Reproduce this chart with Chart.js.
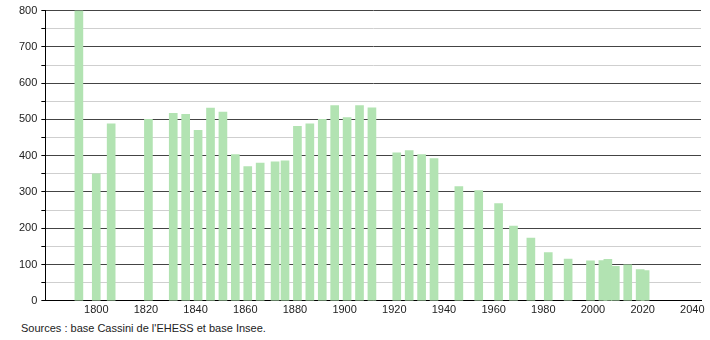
<!DOCTYPE html>
<html lang="fr">
<head>
    <meta charset="UTF-8">
    <title>Évolution démographique</title>
    <script src="https://cdn.jsdelivr.net/npm/chart.js"></script>
    <style>
        body {
            margin: 0;
            padding: 0;
            background: #fff;
            font-family: 'Liberation Sans', Arial, sans-serif;
        }
        .wrap {
            position: relative;
            width: 710px;
            height: 320px;
        }
        .source {
            position: absolute;
            left: 21px;
            top: 322px;
            font-size: 11px;
            color: #222;
        }
    </style>
</head>
<body>
    <div class="wrap">
        <canvas id="popChart"></canvas>
    </div>
    <div class="source">Sources : base Cassini de l'EHESS et base Insee.</div>

    <script>
        // années de recensement et population
        const years = [1793, 1800, 1806, 1821, 1831, 1836, 1841, 1846, 1851, 1856,
                       1861, 1866, 1872, 1876, 1881, 1886, 1891, 1896, 1901, 1906,
                       1911, 1921, 1926, 1931, 1936, 1946, 1954, 1962, 1968, 1975,
                       1982, 1990, 1999, 2004, 2006, 2009, 2014, 2019, 2021];
        const population = [800, 350, 488, 500, 517, 514, 470, 531, 520, 403,
                            370, 380, 383, 386, 481, 488, 500, 538, 505, 538,
                            532, 408, 414, 403, 392, 315, 304, 268, 206, 173,
                            133, 115, 110, 111, 114, 95, 99, 86, 83];
        const xTicks = [1800, 1820, 1840, 1860, 1880, 1900, 1920, 1940, 1960, 1980, 2000, 2020, 2040];

        const points = years.map((y, i) => ({ x: y, y: population[i] }));

        const ctx = document.getElementById('popChart').getContext('2d');
        new Chart(ctx, {
            type: 'bar',
            data: {
                datasets: [{
                    data: points,
                    backgroundColor: '#b2e3b2',
                    borderWidth: 0,
                    barThickness: 8
                }]
            },
            options: {
                responsive: true,
                maintainAspectRatio: false,
                animation: false,
                layout: { padding: { top: 4, right: 9, left: 15, bottom: 0 } },
                plugins: {
                    legend: { display: false },
                    tooltip: { enabled: false }
                },
                scales: {
                    x: {
                        type: 'linear',
                        min: 1779.5,
                        max: 2043.5,
                        offset: false,
                        afterBuildTicks: axis => {
                            axis.ticks = xTicks.map(v => ({ value: v }));
                        },
                        ticks: {
                            font: { family: 'Liberation Sans', size: 11 },
                            color: '#222',
                            maxRotation: 0,
                            autoSkip: false,
                            callback: v => String(v)
                        },
                        grid: { display: false, drawTicks: false },
                        border: { color: '#000', width: 1 }
                    },
                    y: {
                        min: 0,
                        max: 800,
                        ticks: {
                            stepSize: 50,
                            font: { family: 'Liberation Sans', size: 11 },
                            color: '#222',
                            padding: 4,
                            callback: v => (v % 100 === 0 ? String(v) : '')
                        },
                        grid: {
                            color: c => (c.tick && c.tick.value % 100 === 0 ? '#444' : '#cfcfcf'),
                            tickColor: '#000',
                            tickLength: 4
                        },
                        border: { color: '#000', width: 1 }
                    }
                }
            }
        });
    </script>
</body>
</html>
